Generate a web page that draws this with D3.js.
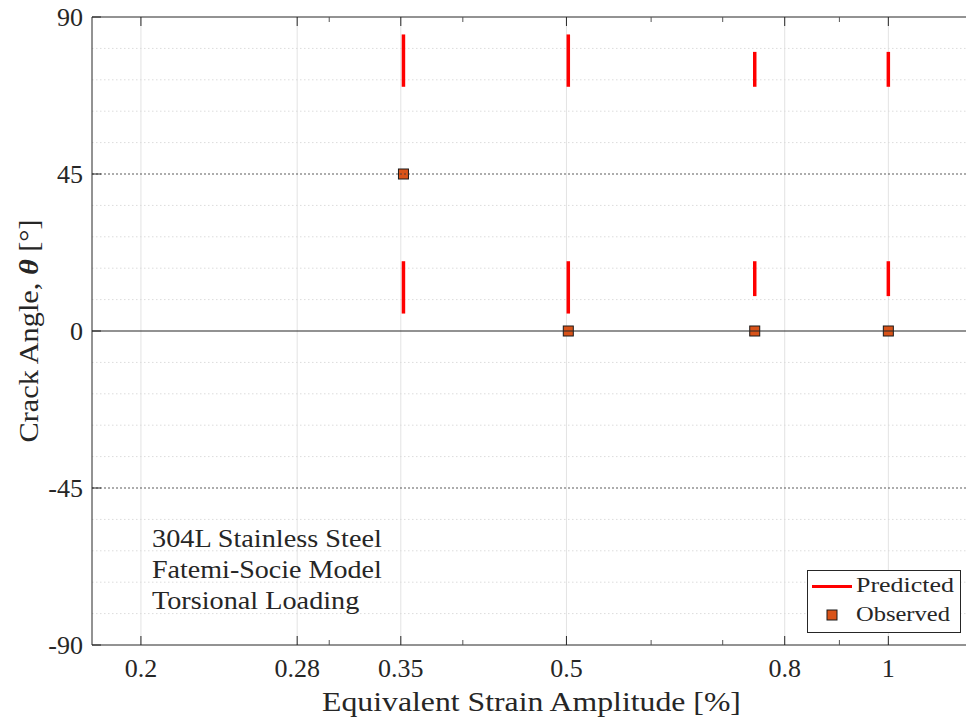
<!DOCTYPE html>
<html>
<head>
<meta charset="utf-8">
<script src="https://cdn.jsdelivr.net/npm/d3@7"></script>
<style>
  html, body { margin: 0; padding: 0; background: #fff; }
  svg { display: block; }
  text { font-family: "Liberation Serif", "Times New Roman", serif; fill: #262626; }
</style>
</head>
<body>
<svg id="chart" width="966" height="724"></svg>
<script>
// Strain amplitudes (%) with predicted crack-angle ranges (degrees)
const predAmp   = [0.352, 0.502, 0.75, 1.0];
const predUpLo  = [70, 70, 70, 70];
const predUpHi  = [85, 85, 80, 80];
const predLowLo = [5, 5, 10, 10];
const predLowHi = [20, 20, 20, 20];

// Observed crack angles
const obsAmp   = [0.352, 0.502, 0.75, 1.0];
const obsAngle = [45, 0, 0, 0];

// Axis ticks
const xTicks      = [0.2, 0.28, 0.35, 0.5, 0.8, 1];
const xTickLabels = ["0.2", "0.28", "0.35", "0.5", "0.8", "1"];
const xMinorTicks = [0.3, 0.4, 0.6, 0.7, 0.9];
const yTicks      = [-90, -45, 0, 45, 90];
const yMinorTicks = [-81, -72, -63, -54, -36, -27, -18, -9, 9, 18, 27, 36, 54, 63, 72, 81];

const noteLines = ["304L Stainless Steel", "Fatemi-Socie Model", "Torsional Loading"];
const noteWidths = [230, 230, 208];

const svg = d3.select("#chart");
const L = 92, T = 17, B = 645, R = 973;

const x = d3.scaleLog().domain([0.18, 1.2]).range([L, R]);
const y = d3.scaleLinear().domain([-90, 90]).range([B, T]);

// widen a text element horizontally about an anchor point to a given width
function stretchTo(sel, width, ax, ay) {
  const w = sel.node().getBBox().width;
  const k = width / w;
  sel.attr("transform", `translate(${ax},${ay}) scale(${k},1) translate(${-ax},${-ay})`);
}

svg.append("defs").append("clipPath").attr("id", "plotClip")
  .append("rect").attr("x", L).attr("y", T).attr("width", R - L).attr("height", B - T);

const g = svg.append("g");

// vertical grid at major x ticks
g.selectAll(".xgrid").data(xTicks).join("line")
  .attr("x1", d => x(d)).attr("x2", d => x(d))
  .attr("y1", T).attr("y2", B)
  .attr("stroke", "#e3e3e3").attr("stroke-width", 1);

// minor horizontal grid
g.selectAll(".ymgrid").data(yMinorTicks).join("line")
  .attr("x1", L).attr("x2", R)
  .attr("y1", d => y(d)).attr("y2", d => y(d))
  .attr("stroke", "#dcdcdc").attr("stroke-width", 1)
  .attr("stroke-dasharray", "1.5,2.5");

// predicted ranges
const plot = svg.append("g").attr("clip-path", "url(#plotClip)");
const segs = [];
predAmp.forEach((a, i) => {
  segs.push({a, lo: predUpLo[i], hi: predUpHi[i]});
  segs.push({a, lo: predLowLo[i], hi: predLowHi[i]});
});
plot.selectAll(".pred").data(segs).join("line")
  .attr("x1", d => x(d.a)).attr("x2", d => x(d.a))
  .attr("y1", d => y(d.hi)).attr("y2", d => y(d.lo))
  .attr("stroke", "#ff0000").attr("stroke-width", 3.5);

// observed markers
plot.selectAll(".obs").data(obsAmp.map((a, i) => ({a, v: obsAngle[i]}))).join("rect")
  .attr("x", d => x(d.a) - 5).attr("y", d => y(d.v) - 5)
  .attr("width", 10).attr("height", 10)
  .attr("fill", "#d95319").attr("stroke", "#1a1a1a").attr("stroke-width", 1);

// major horizontal grid at +/-45 and zero line, drawn over the markers
plot.selectAll(".ygrid").data([-45, 45]).join("line")
  .attr("x1", L).attr("x2", R)
  .attr("y1", d => y(d)).attr("y2", d => y(d))
  .attr("stroke", "#333").attr("stroke-opacity", 0.8).attr("stroke-width", 1)
  .attr("stroke-dasharray", "2,2");
plot.append("line")
  .attr("x1", L).attr("x2", R).attr("y1", y(0)).attr("y2", y(0))
  .attr("stroke", "#262626").attr("stroke-width", 1.2);

// axes box
const ax = svg.append("g").attr("stroke", "#262626").attr("fill", "none");
ax.append("line").attr("x1", L).attr("x2", R).attr("y1", B).attr("y2", B);
ax.append("line").attr("x1", L).attr("x2", R).attr("y1", T).attr("y2", T);
ax.append("line").attr("x1", L).attr("x2", L).attr("y1", T).attr("y2", B);

// x ticks (inward, bottom and top)
[B, T].forEach(edge => {
  const dir = edge === B ? -1 : 1;
  ax.selectAll(null).data(xTicks).join("line")
    .attr("x1", d => x(d)).attr("x2", d => x(d))
    .attr("y1", edge).attr("y2", edge + dir * 9);
  ax.selectAll(null).data(xMinorTicks).join("line")
    .attr("x1", d => x(d)).attr("x2", d => x(d))
    .attr("y1", edge).attr("y2", edge + dir * 5)
    .attr("stroke", "#555");
});
// y ticks (inward)
ax.selectAll(null).data(yTicks).join("line")
  .attr("x1", L).attr("x2", L + 9)
  .attr("y1", d => y(d)).attr("y2", d => y(d));

// tick labels
svg.selectAll(".xl").data(xTicks).join("text")
  .attr("x", d => x(d)).attr("y", 677)
  .attr("text-anchor", "middle").attr("font-size", 26)
  .text((d, i) => xTickLabels[i]);
svg.selectAll(".yl").data(yTicks).join("text")
  .attr("x", 83).attr("y", d => y(d) + 9)
  .attr("text-anchor", "end").attr("font-size", 26)
  .text(d => d);

// axis titles
const xt = svg.append("text")
  .attr("x", 531.5).attr("y", 711)
  .attr("text-anchor", "middle").attr("font-size", 27)
  .text("Equivalent Strain Amplitude [%]");
stretchTo(xt, 419, 531.5, 711);

const ylg = svg.append("g").attr("transform", "translate(38,331) rotate(-90)");
const yl = ylg.append("text")
  .attr("x", 0).attr("y", 0)
  .attr("text-anchor", "middle").attr("font-size", 27);
yl.append("tspan").text("Crack Angle, ");
yl.append("tspan").attr("font-style", "italic").attr("font-weight", "bold").text("θ");
yl.append("tspan").text(" [°]");
stretchTo(yl, 223, 0, 0);

// annotation
svg.selectAll(".note").data(noteLines).join("text")
  .attr("x", 152).attr("y", (d, i) => 547 + i * 31)
  .attr("font-size", 25)
  .text(d => d)
  .each(function(d, i) { stretchTo(d3.select(this), noteWidths[i], 152, 547 + i * 31); });

// legend
const lg = svg.append("g");
lg.append("rect").attr("x", 807.5).attr("y", 570.5).attr("width", 153).attr("height", 62)
  .attr("fill", "#fff").attr("stroke", "#262626").attr("stroke-width", 1);
lg.append("line").attr("x1", 812).attr("x2", 852).attr("y1", 586.5).attr("y2", 586.5)
  .attr("stroke", "#ff0000").attr("stroke-width", 3);
lg.append("rect").attr("x", 827).attr("y", 610).attr("width", 10).attr("height", 10)
  .attr("fill", "#d95319").attr("stroke", "#1a1a1a");
const lp = lg.append("text").attr("x", 856).attr("y", 592).attr("font-size", 22).text("Predicted");
stretchTo(lp, 98, 856, 592);
const lo = lg.append("text").attr("x", 856).attr("y", 621.5).attr("font-size", 22).text("Observed");
stretchTo(lo, 94, 856, 621.5);
</script>
</body>
</html>
